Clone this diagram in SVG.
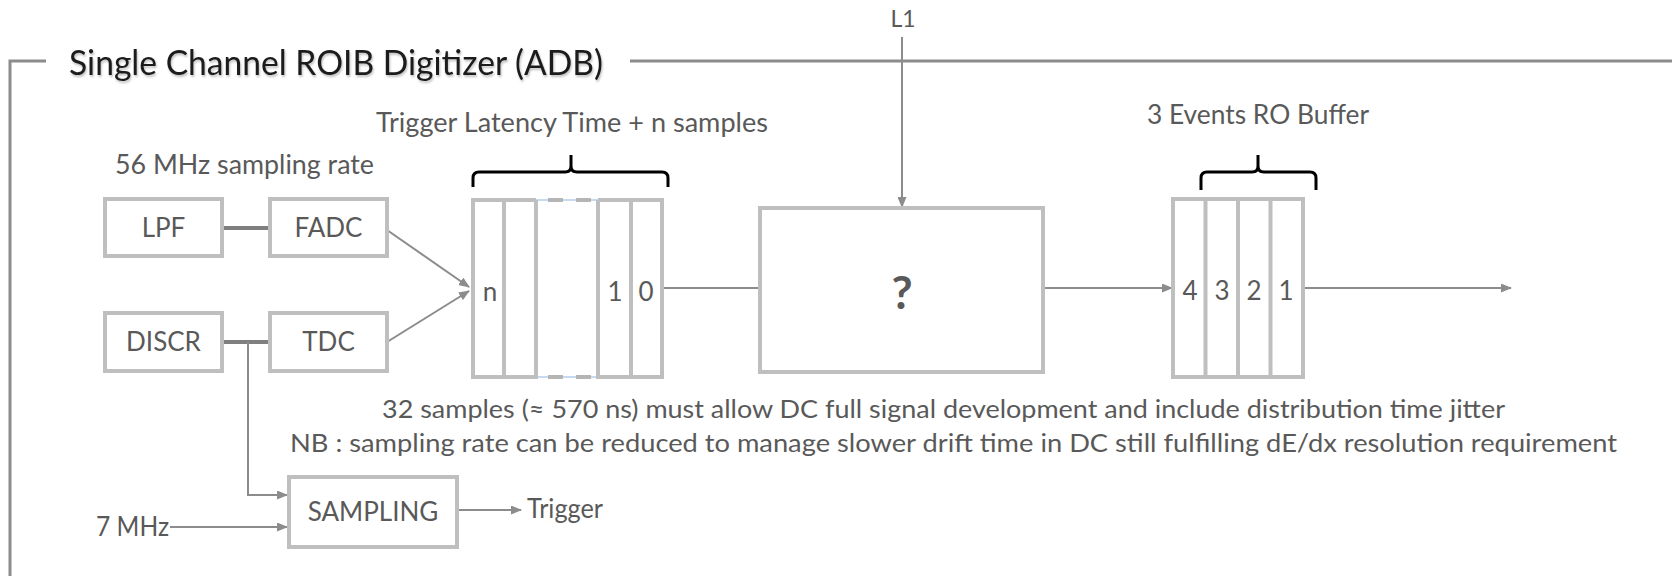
<svg xmlns="http://www.w3.org/2000/svg" width="1672" height="576" viewBox="0 0 1672 576">
<style>
  .box{fill:#fff;stroke:#bfbfbf;stroke-width:4}
  .cell{fill:none;stroke:#bfbfbf;stroke-width:4}
  .t{font-family:Lato,"Liberation Sans",sans-serif;fill:#595959}
  .lbl{font-size:26px}
  .mid{text-anchor:middle}
  .con{fill:none;stroke:#8c8c8c;stroke-width:2}
  .thick{fill:none;stroke:#7f7f7f;stroke-width:4}
  .brace{fill:none;stroke:#000;stroke-width:3;stroke-linejoin:round}
</style>
<defs>
  <marker id="arr" markerUnits="userSpaceOnUse" markerWidth="11" markerHeight="9" refX="10" refY="4.5" orient="auto">
    <path d="M0,0 L11,4.5 L0,9 z" fill="#8c8c8c"/>
  </marker>
  <filter id="shadow" x="-5%" y="-20%" width="110%" height="150%">
    <feDropShadow dx="1" dy="2" stdDeviation="1.2" flood-color="#000" flood-opacity="0.25"/>
  </filter>
</defs>
<rect width="1672" height="576" fill="#fff"/>

<g id="frame">
  <path d="M10,576 V61 H46 M630,61 H1672" fill="none" stroke="#8c8c8c" stroke-width="3"/>
  <text class="t" x="69" y="75" font-size="35" style="fill:#1a1a1a" filter="url(#shadow)" textLength="534" lengthAdjust="spacingAndGlyphs">Single Channel ROIB Digitizer (ADB)</text>
</g>

<g id="labels">
  <text class="t lbl" x="376" y="132" textLength="392" lengthAdjust="spacingAndGlyphs">Trigger Latency Time + n samples</text>
  <text class="t lbl" x="115" y="174" textLength="259" lengthAdjust="spacingAndGlyphs">56 MHz sampling rate</text>
  <text class="t lbl" x="1147" y="124" textLength="222" lengthAdjust="spacingAndGlyphs">3 Events RO Buffer</text>
  <text class="t mid" x="903" y="27" font-size="23">L1</text>
  <text class="t" x="382" y="418" font-size="25.5" textLength="1123" lengthAdjust="spacingAndGlyphs">32 samples (≈ 570 ns) must allow DC full signal development and include distribution time jitter</text>
  <text class="t" x="290" y="452" font-size="25.5" textLength="1327" lengthAdjust="spacingAndGlyphs">NB : sampling rate can be reduced  to manage slower drift time in DC still fulfilling dE/dx resolution requirement</text>
</g>

<g id="braces">
  <path class="brace" d="M473,187 V178 Q473,172 479,172 H565 Q571,172 571,166 V155 M571,166 Q571,172 577,172 H662 Q668,172 668,178 V187"/>
  <path class="brace" d="M1201,190 V178 Q1201,172 1207,172 H1252 Q1258,172 1258,166 V155 M1258,166 Q1258,172 1264,172 H1310 Q1316,172 1316,178 V190"/>
</g>

<g id="connectors">
  <line class="thick" x1="222" y1="228" x2="270" y2="228"/>
  <line class="thick" x1="222" y1="342" x2="270" y2="342"/>
  <line class="con" x1="387" y1="230" x2="469" y2="287" marker-end="url(#arr)"/>
  <line class="con" x1="387" y1="342" x2="469" y2="291" marker-end="url(#arr)"/>
  <line class="con" x1="664" y1="288" x2="760" y2="288"/>
  <line class="con" x1="902" y1="37" x2="902" y2="207" marker-end="url(#arr)"/>
  <line class="con" x1="1043" y1="288" x2="1172" y2="288" marker-end="url(#arr)"/>
  <line class="con" x1="1304" y1="288" x2="1511" y2="288" marker-end="url(#arr)"/>
  <path class="con" d="M248,342 V495 H287" marker-end="url(#arr)"/>
  <line class="con" x1="170" y1="527" x2="287" y2="527" marker-end="url(#arr)"/>
  <line class="con" x1="458" y1="510" x2="521" y2="510" marker-end="url(#arr)"/>
</g>

<g id="lpf">
  <rect class="box" x="105" y="199" width="117" height="57"/>
  <text class="t lbl mid" x="163.5" y="237">LPF</text>
</g>
<g id="fadc">
  <rect class="box" x="270" y="199" width="117" height="57"/>
  <text class="t lbl mid" x="328.5" y="237">FADC</text>
</g>
<g id="discr">
  <rect class="box" x="105" y="313" width="117" height="58"/>
  <text class="t lbl mid" x="163.5" y="351">DISCR</text>
</g>
<g id="tdc">
  <rect class="box" x="270" y="313" width="117" height="58"/>
  <text class="t lbl mid" x="328.5" y="351">TDC</text>
</g>

<g id="register">
  <path d="M536,200 H598 M536,377 H598" fill="none" stroke="#8db3e2" stroke-width="1"/>
  <path d="M520,200 H611 M520,377 H611" fill="none" stroke="#b5b5b5" stroke-width="4" stroke-dasharray="15 13"/>
  <path class="cell" d="M536,200 H473 V377 H536 V200 M504,200 V377"/>
  <path class="cell" d="M598,200 H662 V377 H598 V200 M631,200 V377"/>
  <text class="t lbl mid" x="490" y="301">n</text>
  <text class="t lbl mid" x="615" y="301">1</text>
  <text class="t lbl mid" x="646" y="301">0</text>
</g>

<g id="process">
  <rect class="box" x="760" y="208" width="283" height="164"/>
  <text class="t mid" x="902" y="309" font-size="46" font-weight="bold">?</text>
</g>

<g id="buffer">
  <rect class="box" x="1173" y="199" width="130" height="178"/>
  <path class="cell" d="M1205.5,199 V377 M1238,199 V377 M1270.5,199 V377"/>
  <text class="t lbl mid" x="1190" y="300">4</text>
  <text class="t lbl mid" x="1222" y="300">3</text>
  <text class="t lbl mid" x="1254" y="300">2</text>
  <text class="t lbl mid" x="1286" y="300">1</text>
</g>

<g id="sampling">
  <rect class="box" x="289" y="477" width="168" height="70"/>
  <text class="t lbl mid" x="373" y="521">SAMPLING</text>
</g>
<g id="clk">
  <text class="t lbl" x="96" y="536" textLength="73" lengthAdjust="spacingAndGlyphs">7 MHz</text>
</g>
<g id="trigger">
  <text class="t lbl" x="527" y="518" textLength="76" lengthAdjust="spacingAndGlyphs">Trigger</text>
</g>
</svg>
